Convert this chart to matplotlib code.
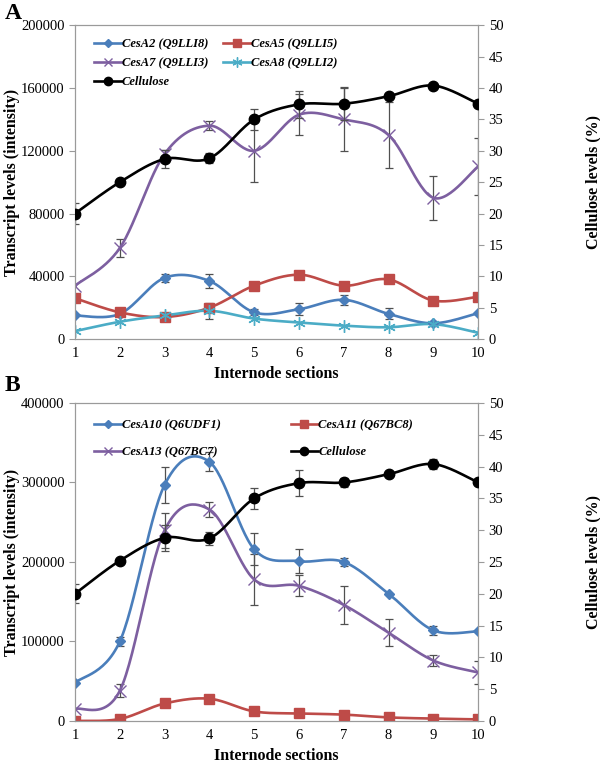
import numpy as np
import matplotlib.pyplot as plt

sections = [1, 2, 3, 4, 5, 6, 7, 8, 9, 10]

# panel A transcripts
cesa2 = [15000, 16000, 39000, 37000, 17000, 19000, 25000, 16000, 10000, 16500]
cesa2_err = [0, 0, 2500, 4500, 2000, 4000, 3000, 3500, 1500, 0]
cesa5 = [26000, 17000, 14000, 20000, 34000, 41000, 34000, 38000, 24500, 27000]
cesa5_err = [0, 0, 0, 0, 2000, 0, 0, 0, 2500, 0]
cesa7 = [34000, 58000, 118000, 136000, 120000, 143000, 140000, 130000, 90000, 110000]
cesa7_err = [0, 6000, 2500, 3000, 20000, 13000, 20000, 21000, 14000, 18000]
cesa8 = [5000, 11000, 15000, 18000, 13000, 10500, 8500, 7500, 9500, 4000]
cesa8_err = [0, 0, 0, 5000, 0, 0, 0, 0, 0, 0]
cellulose_a = [20, 25, 28.7, 28.8, 35, 37.4, 37.5, 38.7, 40.4, 37.5]
cellulose_a_err = [1.6, 0, 1.5, 0.8, 1.7, 2.1, 2.6, 0, 0, 0]

# panel B transcripts
cesa10 = [48000, 100000, 297000, 326000, 216000, 201000, 200000, 160000, 114000, 113000]
cesa10_err = [0, 6000, 23000, 12000, 20000, 15000, 5000, 0, 6000, 0]
cesa11 = [0, 2500, 22000, 28000, 12000, 9500, 8000, 4500, 3000, 2000]
cesa13 = [15000, 38000, 240000, 266000, 178000, 170000, 146000, 111000, 76000, 61000]
cesa13_err = [0, 8000, 22000, 9000, 32000, 13000, 24000, 17000, 7000, 15000]
cellulose_b = [20, 25.2, 28.8, 28.7, 35, 37.4, 37.5, 38.8, 40.4, 37.5]
cellulose_b_err = [1.5, 0, 2.0, 1.0, 1.6, 2.1, 0.7, 0, 0.8, 0]

plt.rcParams['font.family'] = ['Liberation Serif', 'DejaVu Serif']

BLUE = '#4A7EBB'
RED = '#BE4B48'
PURPLE = '#7D5FA0'
CYAN = '#4BACC6'
ERRC = '#505050'
AXC = '#9a9a9a'


def smooth(x, y, n=30):
    # excel-style smoothed line (bezier through the points)
    x = np.asarray(x, float)
    y = np.asarray(y, float)
    px, py = [], []
    for i in range(len(x) - 1):
        i0 = max(i - 1, 0)
        i3 = min(i + 2, len(x) - 1)
        c1x = x[i] + (x[i + 1] - x[i0]) / 6
        c1y = y[i] + (y[i + 1] - y[i0]) / 6
        c2x = x[i + 1] - (x[i3] - x[i]) / 6
        c2y = y[i + 1] - (y[i3] - y[i]) / 6
        t = np.linspace(0, 1, n)
        bx = (1-t)**3*x[i] + 3*(1-t)**2*t*c1x + 3*(1-t)*t**2*c2x + t**3*x[i+1]
        by = (1-t)**3*y[i] + 3*(1-t)**2*t*c1y + 3*(1-t)*t**2*c2y + t**3*y[i+1]
        px.extend(bx)
        py.extend(by)
    return px, py


def series(ax, y, err, color, marker, ms, label, mew=1.0):
    sx, sy = smooth(sections, y)
    ax.plot(sx, sy, color=color, lw=1.9, zorder=3)
    if err is not None:
        e = np.asarray(err, float)
        m = e > 0
        ax.errorbar(np.asarray(sections)[m], np.asarray(y)[m], yerr=e[m], fmt='none',
                    ecolor=ERRC, elinewidth=0.9, capsize=3, capthick=0.9, zorder=2)
    ax.plot(sections, y, ls='none', marker=marker, ms=ms, color=color,
            mec=color, mew=mew, zorder=4)
    return ax.plot([], [], color=color, lw=1.9, marker=marker, ms=ms * 0.8,
                   mec=color, mew=mew, label=label)[0]


def style_axes(ax, ax2, ymax, ystep):
    ax.set_xlim(1, 10)
    ax.set_ylim(0, ymax)
    ax.set_yticks(np.arange(0, ymax + 1, ystep))
    ax.set_xticks(sections)
    ax2.set_ylim(0, 50)
    ax2.set_yticks(range(0, 51, 5))
    for a in (ax, ax2):
        for s in a.spines.values():
            s.set_color(AXC)
        a.tick_params(colors=AXC, labelcolor='black', labelsize=10.5, length=4)
    ax.tick_params(axis='x', length=0, pad=6)
    ax.set_xlabel('Internode sections', fontsize=11.5, fontweight='bold')
    ax.set_ylabel('Transcript levels (intensity)', fontsize=11.5, fontweight='bold')
    ax2.set_ylabel('Cellulose levels (%)', fontsize=11.5, fontweight='bold')
    ax.yaxis.set_label_coords(-0.137, 0.5)
    ax2.yaxis.set_label_coords(1.265, 0.5)


fig = plt.figure(figsize=(6, 7.67), dpi=100)

# panel A
axA = fig.add_axes([0.125, 0.558, 0.672, 0.409])
axA2 = axA.twinx()
h = []
h.append(series(axA, cesa2, cesa2_err, BLUE, 'D', 5.5, 'CesA2 (Q9LLI8)'))
h.append(series(axA, cesa5, cesa5_err, RED, 's', 7, 'CesA5 (Q9LLI5)'))
h.append(series(axA, cesa7, cesa7_err, PURPLE, 'x', 8, 'CesA7 (Q9LLI3)'))
h.append(series(axA, cesa8, cesa8_err, CYAN, (6, 2, 0), 9, 'CesA8 (Q9LLI2)'))
h.append(series(axA2, cellulose_a, cellulose_a_err, 'black', 'o', 7.5, 'Cellulose'))
style_axes(axA, axA2, 200000, 40000)
axA2.legend(handles=[h[0], h[2], h[4], h[1], h[3]], ncol=2, loc='upper left',
            bbox_to_anchor=(0.02, 0.995), frameon=False, handlelength=2.2,
            columnspacing=1.2, labelspacing=0.55, handletextpad=0.0,
            prop={'weight': 'bold', 'style': 'italic', 'size': 9})
fig.text(0.008, 0.975, 'A', fontsize=17, fontweight='bold')

# panel B
axB = fig.add_axes([0.125, 0.06, 0.672, 0.4146])
axB2 = axB.twinx()
h = []
h.append(series(axB, cesa10, cesa10_err, BLUE, 'D', 5.5, 'CesA10 (Q6UDF1)'))
h.append(series(axB, cesa11, None, RED, 's', 7, 'CesA11 (Q67BC8)'))
h.append(series(axB, cesa13, cesa13_err, PURPLE, 'x', 8, 'CesA13 (Q67BC7)'))
h.append(series(axB2, cellulose_b, cellulose_b_err, 'black', 'o', 7.5, 'Cellulose'))
style_axes(axB, axB2, 400000, 100000)
axB2.legend(handles=[h[0], h[2], h[1], h[3]], ncol=2, loc='upper left',
            bbox_to_anchor=(0.02, 0.985), frameon=False, handlelength=2.2,
            columnspacing=5.6, labelspacing=1.2, handletextpad=0.0,
            prop={'weight': 'bold', 'style': 'italic', 'size': 9})
fig.text(0.008, 0.49, 'B', fontsize=17, fontweight='bold')

fig.savefig('out.png', dpi=100)
